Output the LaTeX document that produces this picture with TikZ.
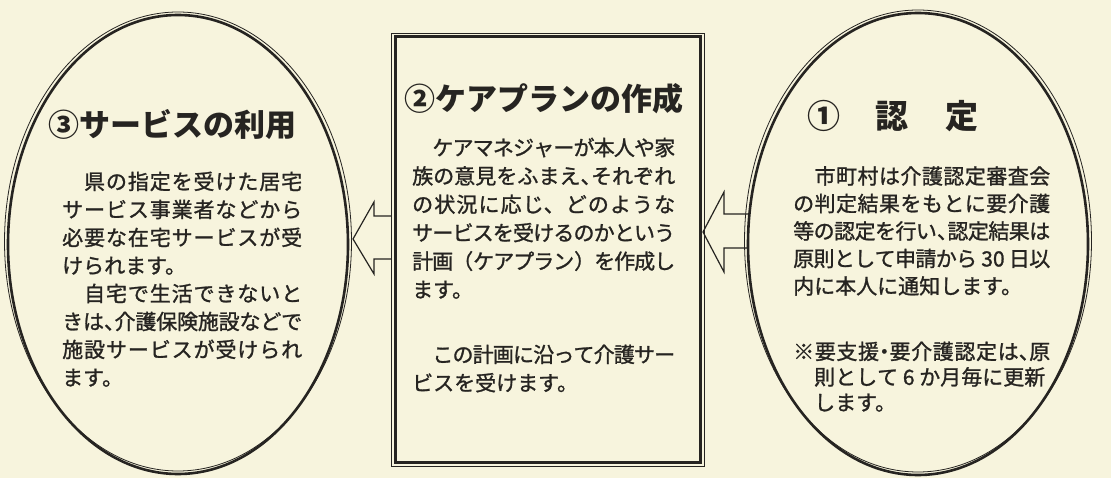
\documentclass[tikz,border=0pt]{standalone}
\usepackage{fontspec}
\setmainfont{Noto Sans CJK JP}
\newfontfamily\bodyfam{Noto Sans CJK JP}[FakeBold=1.2]
\XeTeXlinebreaklocale "ja"
\XeTeXlinebreakskip=0pt plus 4pt minus 2pt
\setlength\parindent{0pt}
\definecolor{paper}{RGB}{247,244,221}
\definecolor{ink}{RGB}{38,36,33}
\newcommand\hc{\makebox[0.5em][l]{、}}
\newcommand\hd{\makebox[0.5em][c]{・}}
\tikzset{
  body/.style 2 args={anchor=north west, inner sep=0pt, text width=#1pt, align=justify,
    font=\bodyfam\fontsize{21}{#2}\selectfont, text=ink},
  ttl/.style={inner sep=0pt, text=ink, font=\fontsize{31}{31}\selectfont\bfseries},
  heavy/.style={line width=2.6pt, draw=ink},
  hair/.style={line width=0.8pt, draw=ink},
  arr/.style={line width=1.2pt, draw=ink, line join=miter},
}
\begin{document}
\begin{tikzpicture}[x=1pt,y=-1pt]
\fill[paper] (0,0) rectangle (1111,478);
\useasboundingbox (0,0) rectangle (1111,478);
% named reference points
\coordinate (lc) at (178,244.5);
\coordinate (rc) at (918,244);
% arrows (drawn first, outlines only)
\draw[arr] (391,216) -- (374,216) -- (374,202) -- (353,239) -- (374,274) -- (374,259) -- (391,259);
\draw[arr] (748,214) -- (724,214) -- (724,192) -- (703,232) -- (724,272) -- (724,248) -- (748,248);
% left ellipse
\draw[heavy] (lc) ellipse [x radius=170, y radius=229.5];
\draw[hair] ([yshift=3pt]lc) ellipse [x radius=173.5, y radius=229.5];
% right ellipse
\draw[heavy] (rc) ellipse [x radius=170, y radius=231];
\draw[hair] ([yshift=3pt]rc) ellipse [x radius=173.5, y radius=231];
% middle box
\draw[hair] (391,33) rectangle (704,466);
\draw[line width=3pt, draw=ink] (395,37) rectangle (700,462);
% titles
\node[ttl] (t3) at (172.5,124.5) {③サービスの利用};
\node[ttl] (t2) at (543.5,98.5) {②ケアプランの作成};
\node[ttl, font=\fontsize{33}{33}\selectfont\bfseries] (t1a) at (824,116) {①};
\node[ttl, font=\fontsize{33}{33}\selectfont\bfseries] (t1b) at (892,116) {認};
\node[ttl, font=\fontsize{33}{33}\selectfont\bfseries] (t1c) at (962,116) {定};
% bodies
\node[body={240}{28}] (b3) at (62,171.5) {　県の指定を受けた居宅\linebreak サービス事業者などから\linebreak 必要な在宅サービスが受\linebreak けられます。\par　自宅で生活できないと\linebreak きは\hc 介護保険施設などで\linebreak 施設サービスが受けられ\linebreak ます。};
\node[body={263}{28.4}] (b2a) at (412,137.5) {　ケアマネジャーが本人や家\linebreak 族の意見をふまえ\hc それぞれ\linebreak の状況に応じ、どのような\linebreak サービスを受けるのかという\linebreak 計画（ケアプラン）を作成し\linebreak ます。};
\node[body={263}{28.4}] (b2b) at (412,344.5) {　この計画に沿って介護サー\linebreak ビスを受けます。};
\node[body={257}{27.5}] (b1a) at (793,166) {　市町村は介護認定審査会\linebreak の判定結果をもとに要介護\linebreak 等の認定を行い\hc 認定結果は\linebreak 原則として申請から 30 日以\linebreak 内に本人に通知します。};
\node[body={257}{25.5}] (b1b) at (793,341.5) {※要支援\hd 要介護認定は\hc 原\linebreak \hspace*{1em}則として 6 か月毎に更新\newline \hspace*{1em}します。};
\end{tikzpicture}
\end{document}
